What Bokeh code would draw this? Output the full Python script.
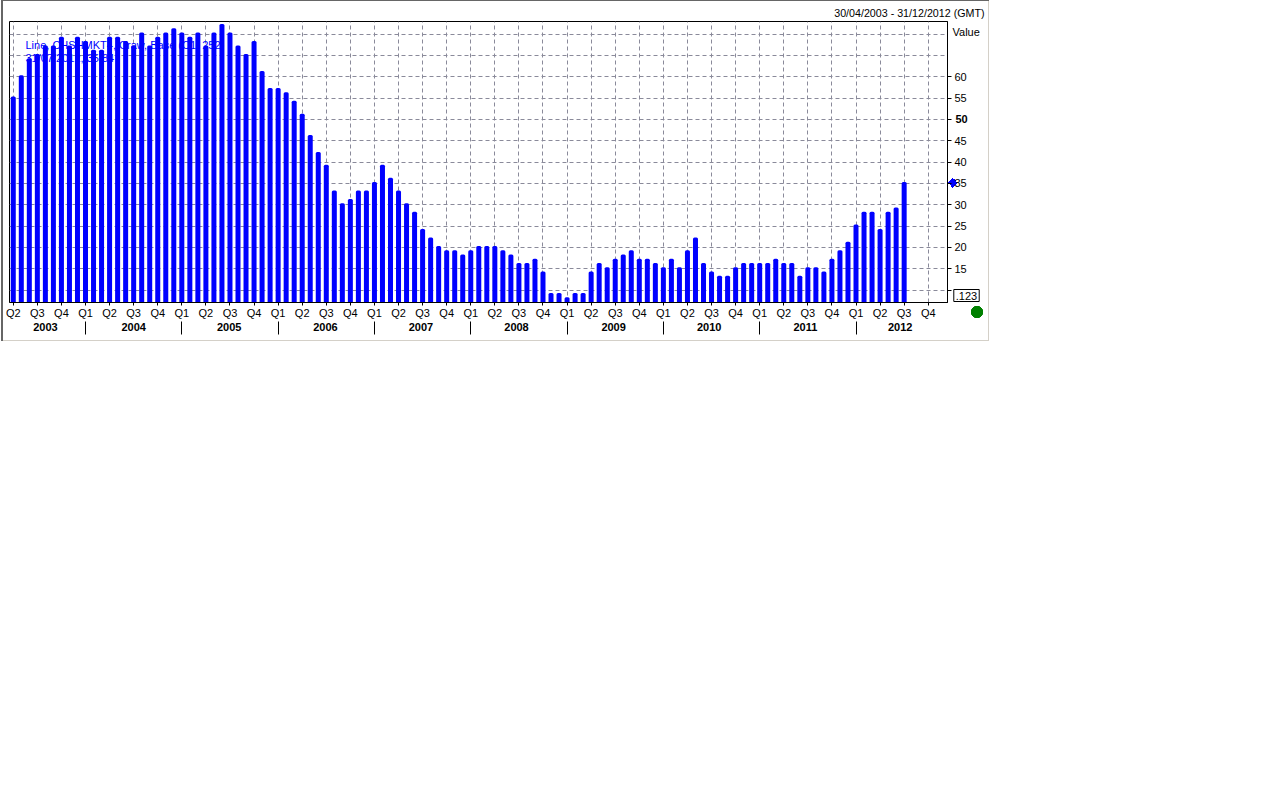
from bokeh.plotting import figure
from bokeh.models import (LinearAxis, FixedTicker, Range1d, Label, Grid)
from bokeh.embed import file_html
from bokeh.resources import INLINE

values = [55,60,64,65,67,67,69,67,69,68,66,66,69,69,68,67,70,67,69,70,71,70,69,70,67,70,72,70,67,65,68,
          61,57,57,56,54,51,46,42,39,33,30,31,33,33,35,39,36,33,30,28,24,22,20,19,19,18,19,20,20,20,19,18,
          16,16,17,14,9,9,8,9,9,14,16,15,17,18,19,17,17,16,15,17,15,19,22,16,14,13,13,15,16,16,16,16,17,16,
          16,13,15,15,14,17,19,21,25,28,28,24,28,29,35]
months = list(range(len(values)))
quarter_ticks = list(range(0, 115, 3))
quarter_labels = ["Q2","Q3","Q4"] + ["Q1","Q2","Q3","Q4"]*9
year_centers = [4, 15, 26.9, 38.9, 50.8, 62.7, 74.8, 86.7, 98.7, 110.5]
year_labels = ["2003","2004","2005","2006","2007","2008","2009","2010","2011","2012"]
year_separators = [9,21,33,45,57,69,81,93,105]
value_ticks = [10,15,20,25,30,35,40,45,50,55,60]
grid_values = [10,15,20,25,30,35,40,45,50,55,60,65,70]
labelled_values = [15,20,25,30,35,40,45,55,60]
FONT = "Liberation Sans"
GRID = "#8a8a9a"
BLUE = "#0000ff"

p = figure(frame_width=938, frame_height=281, output_backend="svg", toolbar_location=None,
           x_range=Range1d(-0.47, 116.4), y_range=Range1d(7.1, 72.95),
           x_axis_location=None, y_axis_location=None,
           min_border_left=9, min_border_right=42, min_border_top=21, min_border_bottom=1,
           background_fill_color="white", border_fill_color=None)
p.outline_line_color = "black"
p.outline_line_width = 1

def rect(color, x, y, w, h):
    return f"linear-gradient({color},{color}) {x}px {y}px / {w}px {h}px no-repeat"
def tri(direction, x, y):
    return f"linear-gradient(to {direction}, transparent 50%, {BLUE} 50%) {x}px {y}px / 5px 5px no-repeat"
p.styles = {"background": ", ".join([
    tri("bottom right", 948, 178), tri("bottom left", 953, 178),
    tri("top right", 948, 183), tri("top left", 953, 183),
    f"radial-gradient(circle 6.3px at 977px 312px, #008000 95%, transparent 100%)",
    rect("#666666", 1, 0, 988, 1), rect("#666666", 1, 0, 2, 341),
    rect("#d4d0c8", 988, 0, 1, 341), rect("#d4d0c8", 1, 340, 988, 1),
])}

p.vbar(x=months, top=values, bottom=0, width=0.25, color=BLUE, line_color=BLUE,
       line_width=3, line_join="round")

ax = LinearAxis(ticker=FixedTicker(ticks=quarter_ticks),
                major_label_overrides={t: l for t, l in zip(quarter_ticks, quarter_labels)})
ax.major_tick_in = 0; ax.major_tick_out = 3; ax.minor_tick_line_color = None
ax.major_tick_line_color = "black"; ax.major_label_text_color = "black"
ax.major_label_text_font = FONT; ax.major_label_text_font_size = "11px"
ax.major_label_standoff = 1; ax.axis_line_color = "black"
p.add_layout(ax, "below")

yr = LinearAxis(ticker=FixedTicker(ticks=year_centers, minor_ticks=year_separators),
                major_label_overrides={t: l for t, l in zip(year_centers, year_labels)})
yr.axis_line_color = None; yr.major_tick_line_color = None
yr.major_tick_in = 0; yr.major_tick_out = 0
yr.minor_tick_in = 0; yr.minor_tick_out = 13; yr.minor_tick_line_color = "black"
yr.major_label_text_color = "black"
yr.major_label_text_font = FONT; yr.major_label_text_font_size = "11px"
yr.major_label_text_font_style = "bold"; yr.major_label_standoff = -12
p.add_layout(yr, "below")

ay = LinearAxis(ticker=FixedTicker(ticks=value_ticks),
                major_label_overrides={t: (str(t) if t in labelled_values else "") for t in value_ticks})
ay.major_tick_in = 0; ay.major_tick_out = 4; ay.minor_tick_line_color = None
ay.major_tick_line_color = "black"; ay.major_label_text_color = "black"
ay.major_label_text_font = FONT; ay.major_label_text_font_size = "11px"
ay.major_label_standoff = 3; ay.axis_line_color = "black"
p.add_layout(ay, "right")

p.xgrid.visible = False; p.ygrid.visible = False
p.add_layout(Grid(dimension=0, ticker=ax.ticker, grid_line_color=GRID, grid_line_dash="4 3"))
p.add_layout(Grid(dimension=1, ticker=FixedTicker(ticks=grid_values), grid_line_color=GRID, grid_line_dash="4 3"))

def lab(text, x, y, y_units="canvas", **kw):
    base = dict(x=x, y=y, x_units="canvas", y_units=y_units, text=text, text_font=FONT,
                text_font_size="11px", text_baseline="middle", text_color="black")
    base.update(kw)
    p.add_layout(Label(**base), "below")

lab("30/04/2003 - 31/12/2012 (GMT)", 984, 12, text_align="right", text_font_size="10.7px")
lab("Value", 952, 31)
lab("50", 955, 50, y_units="data", text_font_style="bold")
lab(".123", 966, 295, text_align="center", border_line_color="black", background_fill_color="white", padding=2)
lab("Line, CHSHMKT4, Craw, Base (C1, 252)", 25, 44, text_color=BLUE)
lab("31/07/2012, 35.84", 25, 57, text_color=BLUE)

open("out.html", "w").write(file_html(p, INLINE))
